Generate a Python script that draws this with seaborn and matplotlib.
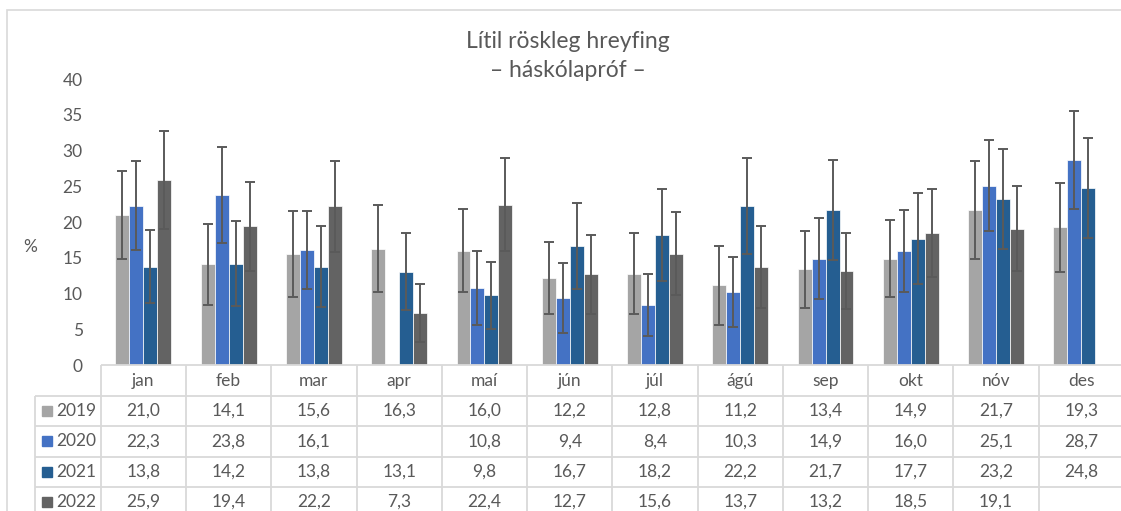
import numpy as np
import pandas as pd
import seaborn as sns
import matplotlib.pyplot as plt
from matplotlib.patches import Rectangle

months = ["jan", "feb", "mar", "apr", "maí", "jún", "júl", "ágú", "sep", "okt", "nóv", "des"]
years = ["2019", "2020", "2021", "2022"]

v2019 = [21.0, 14.1, 15.6, 16.3, 16.0, 12.2, 12.8, 11.2, 13.4, 14.9, 21.7, 19.3]
v2020 = [22.3, 23.8, 16.1, np.nan, 10.8, 9.4, 8.4, 10.3, 14.9, 16.0, 25.1, 28.7]
v2021 = [13.8, 14.2, 13.8, 13.1, 9.8, 16.7, 18.2, 22.2, 21.7, 17.7, 23.2, 24.8]
v2022 = [25.9, 19.4, 22.2, 7.3, 22.4, 12.7, 15.6, 13.7, 13.2, 18.5, 19.1, np.nan]

# half-width of the error bars
e2019 = [6.1, 5.7, 6.0, 6.1, 5.8, 5.0, 5.7, 5.5, 5.4, 5.4, 6.8, 6.2]
e2020 = [6.2, 6.7, 5.4, np.nan, 5.1, 4.9, 4.3, 4.9, 5.7, 5.7, 6.4, 6.8]
e2021 = [5.1, 5.9, 5.6, 5.4, 4.7, 6.0, 6.4, 6.7, 7.0, 6.4, 7.0, 7.0]
e2022 = [6.9, 6.2, 6.4, 4.0, 6.5, 5.5, 5.8, 5.7, 5.3, 6.2, 5.9, np.nan]

values = {"2019": v2019, "2020": v2020, "2021": v2021, "2022": v2022}
errors = {"2019": e2019, "2020": e2020, "2021": e2021, "2022": e2022}
colors = ["#A5A5A5", "#4472C4", "#255E91", "#636363"]

df = pd.DataFrame([(m, y, values[y][i]) for y in years for i, m in enumerate(months)],
                  columns=["month", "year", "value"])

sns.set_style("white")
plt.rcParams["font.family"] = ["Lato", "DejaVu Sans"]
txt = "#595959"
grid = "#D9D9D9"

W, H = 1121, 511
fig = plt.figure(figsize=(W / 100, H / 100), dpi=100)
ax = fig.add_axes([100.7 / W, (H - 365.3) / H, 1023.3 / W, 286.3 / H])

sns.barplot(data=df.dropna(), x="month", y="value", hue="year", order=months,
            hue_order=years, palette=colors, saturation=1, width=0.655,
            edgecolor="white", linewidth=0.5, errorbar=None, legend=False, ax=ax)

# error bars on top of the bars seaborn placed
for yr, cont in zip(years, ax.containers):
    for bar in cont:
        xc = bar.get_x() + bar.get_width() / 2
        mi = int(round(xc))
        ax.errorbar(xc, bar.get_height(), yerr=errors[yr][mi], fmt="none",
                    ecolor="#5A5A5A", elinewidth=1.4, capsize=3.6, capthick=1.4)

ax.set_xlim(-0.5, 11.5)
ax.set_ylim(0, 40)
ax.set_yticks(range(0, 41, 5))
ax.tick_params(axis="y", length=0, pad=13, labelsize=12.5, labelcolor=txt)
ax.tick_params(axis="x", length=0, labelbottom=False)
ax.set_xlabel("")
ax.set_ylabel("")
for s in ax.spines.values():
    s.set_visible(False)

# data table under the plot
tr = ax.get_xaxis_transform()
rows = [0, -0.1072, -0.2120, -0.3192, -0.4240, -0.5299]
left = -1.2705
ax.hlines(rows[0], -0.5, 11.5, color=grid, lw=1.3, transform=tr, clip_on=False)
ax.hlines(rows[1:5], left, 11.5, color=grid, lw=1.3, transform=tr, clip_on=False)
ax.vlines(np.arange(-0.5, 12.0, 1.0), rows[-1], rows[0], color=grid, lw=1.3,
          transform=tr, clip_on=False)
ax.vlines(left, rows[-1], rows[1], color=grid, lw=1.3, transform=tr, clip_on=False)

for i, m in enumerate(months):
    ax.text(i, (rows[0] + rows[1]) / 2, m, ha="center", va="center", fontsize=12.5,
            color=txt, transform=tr, clip_on=False)

for r, yr in enumerate(years):
    yc = (rows[r + 1] + rows[r + 2]) / 2
    ax.plot(-1.126, yc, marker="s", ms=6.5, color=colors[r], transform=tr,
            clip_on=False, linestyle="none")
    ax.text(-1.016, yc, yr, ha="left", va="center", fontsize=12.5, color=txt,
            transform=tr, clip_on=False)
    for i, v in enumerate(values[yr]):
        if not np.isnan(v):
            ax.text(i, yc, f"{v:.1f}".replace(".", ","), ha="center", va="center",
                    fontsize=12.5, color=txt, transform=tr, clip_on=False)

fig.text(30 / W, 1 - 247 / H, "%", ha="center", va="center", fontsize=12.5, color=txt)
fig.text(568 / W, 1 - 48 / H, "Lítil röskleg hreyfing", ha="center", va="baseline",
         fontsize=16.5, color=txt)
fig.text(568 / W, 1 - 77 / H, "– háskólapróf –", ha="center", va="baseline",
         fontsize=16.5, color=txt)

fig.patches.append(Rectangle((7 / W, -0.2), 1.2, 1.2 - 10 / H, transform=fig.transFigure,
                             fill=False, edgecolor=grid, lw=1.2))

fig.savefig("out.png", dpi=100)
